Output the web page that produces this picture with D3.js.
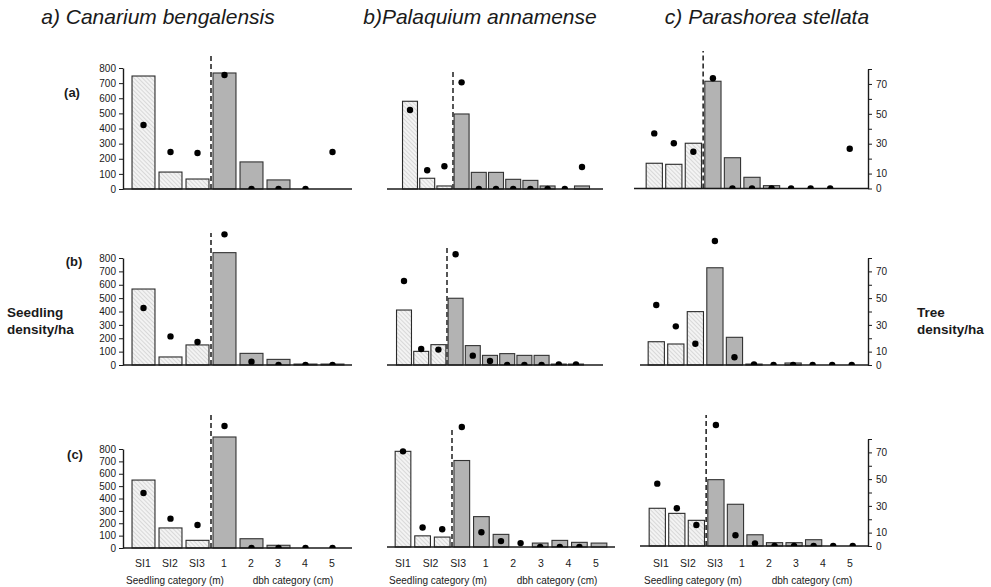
<!DOCTYPE html>
<html>
<head>
<meta charset="utf-8">
<script src="https://cdn.jsdelivr.net/npm/d3@7"></script>
<style>
  body { margin: 0; background: #fff; }
  svg text { font-family: "Liberation Sans", Arial, Helvetica, sans-serif; fill: #1a1a1a; }
</style>
</head>
<body>
<svg id="chart" width="991" height="587"></svg>
<script>
// ---- categories and labels ----
const seedlingClasses = ["SI1", "SI2", "SI3"];
const dbhClasses = ["1", "2", "3", "4", "5"];
const tickLabels = seedlingClasses.concat(dbhClasses);
const speciesTitles = ["a) Canarium bengalensis", "b)Palaquium annamense", "c) Parashorea stellata"];
const siteLabels = ["(a)", "(b)", "(c)"];
const leftTicks = [0, 100, 200, 300, 400, 500, 600, 700, 800];
const rightTicks = [0, 10, 20, 30, 40, 50, 60, 70, 80];
const rightTickText = [0, 10, 30, 50, 70];

// ---- Canarium bengalensis (seedling density/ha) ----
const canariumBarsA = [747, 112, 66, 767, 179, 60, 0, 0];
const canariumDotsA = [423, 245, 238, 754, 0, 0, 0, 245];
const canariumBarsB = [568, 60, 150, 840, 87, 42, 7, 7];
const canariumDotsB = [426, 214, 172, 977, 25, 0, 0, 0];
const canariumBarsC = [549, 162, 62, 897, 75, 22, 0, 0];
const canariumDotsC = [444, 237, 186, 986, 0, 0, 0, 0];

// ---- Palaquium annamense (seedling density/ha) ----
const palaquiumBarsA = [580, 71, 20, 496, 110, 110, 64, 57, 20, 0, 20];
const palaquiumDotsA = [522, 124, 150, 705, 0, 0, 0, 0, 0, 0, 145];
const palaquiumBarsB = [411, 102, 152, 499, 145, 72, 85, 72, 72, 7, 7];
const palaquiumDotsB = [628, 120, 115, 828, 70, 30, 0, 0, 0, 5, 5];
const palaquiumBarsC = [781, 91, 81, 706, 248, 103, 0, 32, 54, 38, 32];
const palaquiumDotsC = [781, 159, 145, 980, 121, 48, 32, 0, 0, 0, null];

// ---- Parashorea stellata (tree density/ha) ----
const parashoreaBarsA = [16.9, 16.2, 30.3, 71.8, 20.6, 7.5, 1.9, 0, 0, 0, 0];
const parashoreaDotsA = [36.9, 30.3, 24.6, 73.8, 0, 0, 0, 0, 0, 0, 26.6];
const parashoreaBarsB = [17.4, 15.7, 39.9, 72.7, 20.7, 0.7, 0, 1.5, 0, 0, 0];
const parashoreaDotsB = [44.9, 28.9, 15.9, 92.7, 5.8, 0.5, 0, 0, 0, 0, 0];
const parashoreaBarsC = [28.2, 24.4, 19.2, 49.6, 31.2, 8.4, 2.5, 2.5, 4.7, 0, 0];
const parashoreaDotsC = [46.6, 28.2, 15.7, 90.5, 8, 2, 0, 0, 0, 0, 0];

// height reached by the dashed seedling/tree divider, in each panel's units
const canariumDivider = [879, 987, 1075];
const palaquiumDivider = [787, 890, 962];
const parashoreaDivider = [92, null, 98];

// ---- layout ----
const columns = [
  { max: 800, axisX: [[123, 352], [123, 352], [123, 352]],
    bandX: [[130, 346], [130, 346], [130, 346]], pad: [0.15, 0.15, 0.15],
    labelX: [129.5, 345.5], titleX: 158, catTitleX: [175, 293] },
  { max: 800, axisX: [[387, 603], [387, 603], [387, 615]],
    bandX: [[401.4, 590.6], [395.4, 584.6], [393.2, 608.8]], pad: [0.13, 0.13, 0.2],
    labelX: [389.2, 609.8], titleX: 480, catTitleX: [438, 557] },
  { max: 80, axisX: [[634, 868], [640, 868], [640, 868]],
    bandX: [[644.5, 859.5], [646.5, 861.5], [647.5, 862.5]], pad: [0.17, 0.17, 0.17],
    labelX: [647.5, 863.5], titleX: 767, catTitleX: [693, 812] }
];
const rows = [
  [{ base: 189, top: 68 }, { base: 189, top: 68 }, { base: 188.5, top: 69 }],
  [{ base: 365, top: 258 }, { base: 365, top: 258 }, { base: 365, top: 258 }],
  [{ base: 548, top: 449 }, { base: 547, top: 449 }, { base: 546, top: 439 }]
];
const siteLabelPos = [[72, 97], [74, 266], [75, 459]];

const panelData = [
  [canariumBarsA, canariumDotsA, palaquiumBarsA, palaquiumDotsA, parashoreaBarsA, parashoreaDotsA],
  [canariumBarsB, canariumDotsB, palaquiumBarsB, palaquiumDotsB, parashoreaBarsB, parashoreaDotsB],
  [canariumBarsC, canariumDotsC, palaquiumBarsC, palaquiumDotsC, parashoreaBarsC, parashoreaDotsC]
];
const dividers = [canariumDivider, palaquiumDivider, parashoreaDivider];

const svg = d3.select("#chart");
const defs = svg.append("defs");

// light diagonal hatching for the seedling classes
const hatch = defs.append("pattern")
  .attr("id", "hatch").attr("patternUnits", "userSpaceOnUse")
  .attr("width", 3).attr("height", 3)
  .attr("patternTransform", "rotate(-45)");
hatch.append("rect").attr("width", 3).attr("height", 3).attr("fill", "#f3f3f3");
hatch.append("line").attr("x1", 0).attr("y1", 0).attr("x2", 0).attr("y2", 3)
  .attr("stroke", "#b0b0b0").attr("stroke-width", 0.8);

// species titles
columns.forEach((c, ci) => {
  svg.append("text").attr("x", c.titleX).attr("y", 24)
    .attr("text-anchor", "middle").attr("font-size", 21).attr("font-style", "italic")
    .text(speciesTitles[ci]);
});

// site labels
siteLabels.forEach((s, ri) => {
  svg.append("text").attr("x", siteLabelPos[ri][0]).attr("y", siteLabelPos[ri][1])
    .attr("text-anchor", "middle").attr("font-size", 13).attr("font-weight", "bold")
    .text(s);
});

// axis titles on both sides
const leftTitle = svg.append("text").attr("x", 7).attr("font-size", 13.5).attr("font-weight", "bold");
leftTitle.append("tspan").attr("x", 7).attr("y", 317).text("Seedling");
leftTitle.append("tspan").attr("x", 7).attr("y", 334).text("density/ha");
const rightTitle = svg.append("text").attr("x", 917).attr("font-size", 13.5).attr("font-weight", "bold");
rightTitle.append("tspan").attr("x", 917).attr("y", 317).text("Tree");
rightTitle.append("tspan").attr("x", 917).attr("y", 334).text("density/ha");

rows.forEach((rowGeo, ri) => {
  columns.forEach((col, ci) => {
    const geo = rowGeo[ci];
    const bars = panelData[ri][ci * 2];
    const dots = panelData[ri][ci * 2 + 1];
    const idx = d3.range(bars.length);

    const x = d3.scaleBand().domain(idx).range(col.bandX[ri])
      .paddingInner(col.pad[ri]).paddingOuter(col.pad[ri] / 2);
    const y = d3.scaleLinear().domain([0, col.max]).range([geo.base, geo.top]);

    const g = svg.append("g");
    const clipId = `clip-${ri}-${ci}`;
    defs.append("clipPath").attr("id", clipId).append("rect")
      .attr("x", col.axisX[ri][0]).attr("y", 0)
      .attr("width", col.axisX[ri][1] - col.axisX[ri][0]).attr("height", geo.base);

    // bars: first three are seedling classes (hatched), the rest trees (grey)
    g.selectAll("rect.bar").data(idx.filter(i => bars[i] > 0)).join("rect")
      .attr("class", "bar")
      .attr("x", i => x(i)).attr("width", x.bandwidth())
      .attr("y", i => y(bars[i])).attr("height", i => y(0) - y(bars[i]))
      .attr("fill", i => i < 3 ? "url(#hatch)" : "#b3b3b3")
      .attr("stroke", i => i < 3 ? "#2a2a2a" : "#333")
      .attr("stroke-width", 1.1);

    // dashed divider between seedling and tree classes
    const div = dividers[ci][ri];
    if (div != null) {
      const xd = (x(2) + x.bandwidth() + x(3)) / 2;
      g.append("line").attr("x1", xd).attr("x2", xd)
        .attr("y1", y(0)).attr("y2", y(div))
        .attr("stroke", ci === 1 ? "#444" : "#1a1a1a")
        .attr("stroke-width", ci === 1 ? 1.8 : 1.5)
        .attr("stroke-dasharray", "5,3");
    }

    // x baseline
    g.append("line").attr("x1", col.axisX[ri][0]).attr("x2", col.axisX[ri][1])
      .attr("y1", y(0)).attr("y2", y(0))
      .attr("stroke", "#1a1a1a").attr("stroke-width", 1.4);

    // dots
    g.append("g").attr("clip-path", `url(#${clipId})`)
      .selectAll("circle").data(idx.filter(i => dots[i] != null)).join("circle")
      .attr("cx", i => x(i) + x.bandwidth() / 2)
      .attr("cy", i => y(dots[i]))
      .attr("r", 3.2).attr("fill", "#000");

    // left axis on the first column
    if (ci === 0) {
      const ax = g.append("g").attr("transform", `translate(${col.axisX[ri][0]},0)`)
        .call(d3.axisLeft(y).tickValues(leftTicks).tickSize(4).tickSizeOuter(0).tickPadding(3));
      ax.select(".domain").attr("stroke", "#1a1a1a").attr("stroke-width", 1.4);
      ax.selectAll(".tick line").attr("stroke", "#1a1a1a");
      ax.selectAll("text").attr("font-size", 10).attr("fill", "#222")
        .attr("font-family", "'Liberation Sans', Arial, sans-serif");
    }
    // right axis on the last column
    if (ci === 2) {
      const ax = g.append("g").attr("transform", `translate(${col.axisX[ri][1]},0)`)
        .call(d3.axisRight(y).tickValues(rightTicks).tickSize(4).tickSizeOuter(0).tickPadding(4)
          .tickFormat(d => rightTickText.includes(d) ? d : ""));
      ax.select(".domain").attr("stroke", "#1a1a1a").attr("stroke-width", 1.4);
      ax.selectAll(".tick line").attr("stroke", "#1a1a1a");
      ax.selectAll("text").attr("font-size", 10).attr("fill", "#222")
        .attr("font-family", "'Liberation Sans', Arial, sans-serif");
    }

    // category labels under the bottom row
    if (ri === rows.length - 1) {
      const lx = d3.scaleBand().domain(tickLabels).range(col.labelX);
      g.selectAll("text.cat").data(tickLabels).join("text")
        .attr("class", "cat")
        .attr("x", d => lx(d) + lx.bandwidth() / 2).attr("y", 567)
        .attr("text-anchor", "middle").attr("font-size", 10.5).attr("fill", "#222")
        .text(d => d);
      g.append("text").attr("x", col.catTitleX[0]).attr("y", 584)
        .attr("text-anchor", "middle").attr("font-size", 10).attr("fill", "#222")
        .text("Seedling category (m)");
      g.append("text").attr("x", col.catTitleX[1]).attr("y", 584)
        .attr("text-anchor", "middle").attr("font-size", 10).attr("fill", "#222")
        .text("dbh category (cm)");
    }
  });
});
</script>
</body>
</html>
